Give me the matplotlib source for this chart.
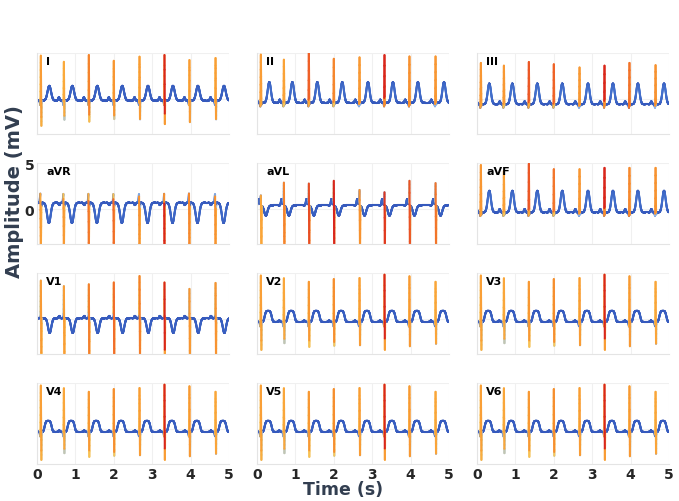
import numpy as np
import matplotlib.pyplot as plt
from matplotlib.collections import LineCollection
from matplotlib.colors import LinearSegmentedColormap

# sampling of the 5 s strip
fs = 500
t = np.arange(0, 5 + 1 / fs, 1 / fs)

# beat positions (s) and relative QRS duration per beat
beat_times = [0.10, 0.70, 1.35, 2.00, 2.67, 3.32, 3.97, 4.65]
beat_width = [1.15, 1.10, 0.95, 0.92, 1.05, 0.80, 1.00, 1.05]

leads = ['I', 'II', 'III', 'aVR', 'aVL', 'aVF', 'V1', 'V2', 'V3', 'V4', 'V5', 'V6']

# per lead morphology (mV, s)
baseline = [-0.15, -0.40, -0.55, 0.70, 0.40, -0.35, 0.10, -0.30, -0.30, -0.30, -0.30, -0.30]
p_amp    = [0.35, 0.35, 0.30, -0.25, 0.70, 0.35, 0.25, 0.15, 0.15, 0.15, 0.15, 0.15]
p_off    = [-0.13, -0.11, -0.11, -0.12, -0.06, -0.11, -0.12, -0.12, -0.12, -0.12, -0.12, -0.12]
q_amp    = [-0.5, -0.4, -0.4, 1.0, 0.3, -0.4, 0.2, -0.5, -0.5, -0.5, -0.5, -0.5]
t_amp    = [1.60, 2.25, 2.25, -2.20, -1.10, 2.35, -1.60, 1.20, 1.20, 1.20, 1.20, 1.20]
t_off    = [0.22, 0.22, 0.22, 0.21, 0.13, 0.22, 0.23, 0.19, 0.19, 0.19, 0.19, 0.19]
t_width  = [0.065, 0.060, 0.060, 0.065, 0.060, 0.060, 0.060, 0.100, 0.100, 0.100, 0.100, 0.100]
t_power  = [2, 2, 2, 2, 2, 2, 2, 4, 4, 4, 4, 4]

# R and S extremes per beat (absolute mV)
r_I   = [4.74, 4.07, 4.81, 4.18, 4.63, 4.81, 4.26, 4.48]
s_I   = [-2.95, -2.40, -2.60, -2.40, -2.50, -2.85, -2.50, -2.50]
r_II  = [4.85, 4.30, 5.20, 4.40, 4.55, 4.80, 4.65, 4.65]
s_II  = [-0.60, -0.60, -0.60, -0.60, -0.60, -0.60, -0.60, -0.60]
r_III = [3.95, 3.65, 4.05, 3.80, 3.45, 3.65, 3.95, 3.70]
s_III = [-0.70, -0.70, -0.70, -0.70, -0.80, -0.70, -0.70, -0.70]
r_aVR = [-4.8, -4.8, -4.8, -4.8, -4.8, -4.8, -4.8, -4.8]
s_aVR = [0.3, 0.3, 0.3, 0.3, 0.3, 0.3, 0.3, 0.3]
r_aVL = [1.50, 2.90, 2.80, 3.10, 2.10, 1.85, 3.10, 2.85]
s_aVL = [-4.8, -4.8, -4.8, -4.8, -4.8, -4.8, -4.8, -4.8]
r_aVF = [4.80, 4.15, 4.95, 4.35, 4.35, 4.50, 4.50, 4.50]
s_aVF = [-0.60, -0.60, -0.60, -0.60, -0.60, -0.60, -0.60, -0.60]
r_V1  = [4.20, 3.60, 3.80, 4.00, 4.70, 4.00, 3.30, 3.95]
s_V1  = [-4.8, -4.8, -4.8, -4.8, -4.8, -4.8, -4.8, -4.8]
r_V   = [4.75, 4.45, 4.07, 4.37, 4.48, 4.85, 4.67, 4.07]
s_V   = [-3.40, -2.80, -3.20, -3.20, -3.20, -3.50, -2.95, -3.00]

r_all = [r_I, r_II, r_III, r_aVR, r_aVL, r_aVF, r_V1, r_V, r_V, r_V, r_V, r_V]
s_all = [s_I, s_II, s_III, s_aVR, s_aVL, s_aVF, s_V1, s_V, s_V, s_V, s_V, s_V]

cmap = LinearSegmentedColormap.from_list('ecg', [
    (0.0, '#3559bd'), (0.10, '#4a7bd3'), (0.22, '#9fc4ea'), (0.36, '#f7c75a'),
    (0.60, '#fbab3c'), (0.78, '#f7902f'), (0.90, '#ef6027'), (1.0, '#d8261d')])

label_col = '#323e50'


def build(i):
    base = baseline[i]
    sig = np.full_like(t, base)
    for b, bt in enumerate(beat_times):
        k = beat_width[b]
        kt = bt + np.array([-0.03, -0.012, 0.0, 0.012, 0.022]) * k
        kv = [0.0, q_amp[i], r_all[i][b] - base, s_all[i][b] - base, 0.0]
        m = (t >= kt[0]) & (t <= kt[-1])
        sig[m] += np.interp(t[m], kt, kv)
        sig += p_amp[i] * np.exp(-((t - bt - p_off[i]) / 0.025) ** 2)
        sig += t_amp[i] * np.exp(-np.abs((t - bt - t_off[i]) / t_width[i]) ** t_power[i])
    return sig


fig, axes = plt.subplots(4, 3, figsize=(6.79, 5.02), dpi=100, sharex=True, sharey=True)
fig.subplots_adjust(left=0.0545, right=0.9853, top=0.8918, bottom=0.0737,
                    wspace=0.146, hspace=0.363)

for i, ax in enumerate(axes.flat):
    sig = build(i)
    pts = np.column_stack([t, sig])
    segs = np.stack([pts[:-1], pts[1:]], axis=1)
    slope = np.abs(np.diff(sig)) * fs
    val = slope / slope.max()
    # steep parts on top
    order = np.argsort(val, kind='stable')
    lc = LineCollection(segs[order], cmap=cmap, norm=plt.Normalize(0, 1),
                        linewidths=1.5, capstyle='round')
    lc.set_array(val[order])
    ax.add_collection(lc)

    ax.text(0.048, 0.9, leads[i], transform=ax.transAxes, fontsize=8,
            fontweight='bold', va='center', ha='left')
    ax.grid(True, color='#f0f0f0', lw=0.8)
    ax.set_axisbelow(True)
    for side in ['top', 'right']:
        ax.spines[side].set_visible(False)
    for side in ['left', 'bottom']:
        ax.spines[side].set_color('#e4e4e4')
    ax.tick_params(length=0, pad=2, labelsize=10, labelcolor='#262626')
    if leads[i] != 'aVR':
        ax.tick_params(labelleft=False)

ax = axes[0, 0]
ax.set_xlim(0, 5)
ax.set_ylim(-3.8, 5)
ax.set_xticks([0, 1, 2, 3, 4, 5])
ax.set_yticks([0, 5])
for a in axes.flat:
    for lab in a.get_xticklabels() + a.get_yticklabels():
        lab.set_fontweight('bold')

fig.text(343 / 679, 1 - 490 / 502, 'Time (s)', fontsize=12.5, fontweight='bold',
         color=label_col, ha='center', va='center')
fig.text(15 / 679, 1 - 192 / 502, 'Amplitude (mV)', fontsize=14, fontweight='bold',
         color=label_col, ha='center', va='center', rotation=90)

fig.savefig('out.png', dpi=100)
